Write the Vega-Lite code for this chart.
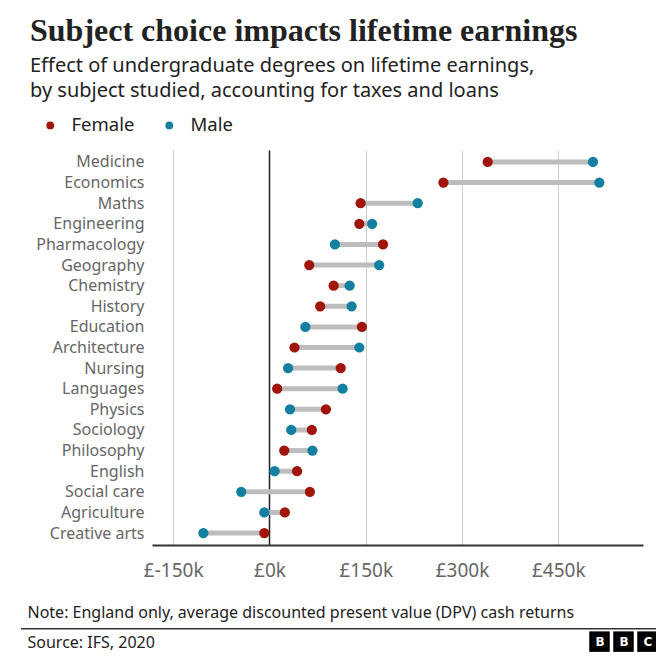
{
  "$schema": "https://vega.github.io/schema/vega-lite/v6.json",
  "width": 491,
  "height": 395,
  "autosize": {"type": "none"},
  "padding": {"left": 152, "top": 150, "right": 13, "bottom": 123},
  "background": "white",
  "title": {
    "text": "Subject choice impacts lifetime earnings",
    "subtitle": ["Effect of undergraduate degrees on lifetime earnings,", "by subject studied, accounting for taxes and loans"],
    "anchor": "start",
    "frame": "group",
    "dx": -122,
    "offset": 14,
    "font": "Liberation Serif",
    "fontSize": 32,
    "fontWeight": "bold",
    "color": "#222222",
    "subtitleFont": "Noto Sans",
    "subtitleFontSize": 20,
    "subtitleColor": "#222222",
    "subtitleLineHeight": 25,
    "subtitlePadding": 8
  },
  "config": {
    "view": {"stroke": null},
    "font": "Noto Sans"
  },
  "data": {
    "values": [
      {"subject": "Medicine", "Female": 340, "Male": 504},
      {"subject": "Economics", "Female": 271, "Male": 514},
      {"subject": "Maths", "Female": 142, "Male": 231},
      {"subject": "Engineering", "Female": 140, "Male": 160},
      {"subject": "Pharmacology", "Female": 177, "Male": 102},
      {"subject": "Geography", "Female": 62, "Male": 171},
      {"subject": "Chemistry", "Female": 100, "Male": 125},
      {"subject": "History", "Female": 79, "Male": 128},
      {"subject": "Education", "Female": 144, "Male": 56},
      {"subject": "Architecture", "Female": 39, "Male": 140},
      {"subject": "Nursing", "Female": 111, "Male": 29},
      {"subject": "Languages", "Female": 12, "Male": 114},
      {"subject": "Physics", "Female": 88, "Male": 32},
      {"subject": "Sociology", "Female": 66, "Male": 34},
      {"subject": "Philosophy", "Female": 23, "Male": 67},
      {"subject": "English", "Female": 43, "Male": 8},
      {"subject": "Social care", "Female": 63, "Male": -44},
      {"subject": "Agriculture", "Female": 24, "Male": -8},
      {"subject": "Creative arts", "Female": -8, "Male": -103}
    ]
  },
  "layer": [
    {
      "mark": {"type": "rule", "color": "#bdbdbd", "strokeWidth": 5},
      "encoding": {
        "y": {
          "field": "subject", "type": "nominal",
          "sort": ["Medicine","Economics","Maths","Engineering","Pharmacology","Geography","Chemistry","History","Education","Architecture","Nursing","Languages","Physics","Sociology","Philosophy","English","Social care","Agriculture","Creative arts"],
          "scale": {"type": "point", "padding": 0.58},
          "title": "Source: IFS, 2020",
          "axis": {
            "domain": false, "ticks": false, "grid": false,
            "labelFont": "Noto Sans", "labelFontSize": 16, "labelColor": "#666666", "labelPadding": 8,
            "titleAngle": 0, "titleX": -125, "titleY": 497, "titleAlign": "left", "titleBaseline": "alphabetic",
            "titleFont": "Noto Sans", "titleFontSize": 16, "titleFontWeight": "normal", "titleColor": "#222222"
          }
        },
        "x": {
          "field": "Female", "type": "quantitative",
          "scale": {"domain": [-183, 582], "nice": false, "zero": false},
          "title": "Note: England only, average discounted present value (DPV) cash returns",
          "axis": {
            "values": [-150, 0, 150, 300, 450],
            "labelExpr": "'£' + datum.value + 'k'",
            "labelFont": "Noto Sans", "labelFontSize": 19, "labelColor": "#666666", "labelPadding": 16,
            "ticks": false,
            "domain": true, "domainColor": "#333333", "domainWidth": 2,
            "grid": true,
            "gridColor": {"expr": "datum.value === 0 ? '#222222' : '#cccccc'"},
            "gridWidth": {"expr": "datum.value === 0 ? 1.5 : 1"},
            "titleX": -125, "titleY": 72, "titleAlign": "left", "titleBaseline": "alphabetic", "titleAnchor": "start",
            "titleFont": "Noto Sans", "titleFontSize": 16, "titleFontWeight": "normal", "titleColor": "#222222"
          }
        },
        "x2": {"field": "Male"}
      }
    },
    {
      "transform": [{"fold": ["Female", "Male"], "as": ["sex", "value"]}],
      "mark": {"type": "circle", "size": 105, "opacity": 1},
      "encoding": {
        "y": {
          "field": "subject", "type": "nominal",
          "sort": ["Medicine","Economics","Maths","Engineering","Pharmacology","Geography","Chemistry","History","Education","Architecture","Nursing","Languages","Physics","Sociology","Philosophy","English","Social care","Agriculture","Creative arts"]
        },
        "x": {"field": "value", "type": "quantitative"},
        "color": {
          "field": "sex", "type": "nominal",
          "scale": {"domain": ["Female", "Male"], "range": ["#a0140a", "#1380a1"]},
          "legend": {
            "orient": "none", "legendX": -111, "legendY": -34, "direction": "horizontal",
            "title": null, "symbolType": "circle", "symbolSize": 60, "symbolStrokeWidth": 0,
            "labelFont": "Noto Sans", "labelFontSize": 18.5, "labelColor": "#222222",
            "labelOffset": 12, "columnPadding": 25, "padding": 0
          }
        }
      }
    },
    {
      "data": {"values": []},
      "mark": {"type": "point", "filled": true, "color": "#000000", "opacity": 1},
      "encoding": {
        "shape": {
          "field": "logo", "type": "nominal",
          "scale": {"domain": ["B1", "B2", "C"], "range": ["square", "square", "square"]},
          "legend": {
            "orient": "none", "legendX": 437, "legendY": 481, "direction": "horizontal", "columns": 3,
            "title": null, "symbolSize": 420, "symbolFillColor": "#000000", "symbolStrokeColor": "#000000",
            "symbolStrokeWidth": 0, "symbolOpacity": 1,
            "labelExpr": "substring(datum.label, 0, 1)", "labelColor": "#ffffff", "labelFont": "DejaVu Sans",
            "labelFontWeight": "bold", "labelFontSize": 12, "labelAlign": "center", "labelOffset": -10,
            "columnPadding": 3, "padding": 0
          }
        },
        "stroke": {
          "field": "sep", "type": "quantitative",
          "scale": {"domain": [0, 1], "range": ["#333333", "#333333"]},
          "legend": {
            "type": "gradient", "orient": "none", "legendX": -131, "legendY": 478, "direction": "horizontal",
            "title": null, "labelExpr": "''", "labelFontSize": 1, "labelOpacity": 0, "tickCount": 1,
            "gradientLength": 635, "gradientThickness": 1.5,
            "gradientStrokeWidth": 0, "padding": 0
          }
        }
      }
    }
  ]
}
